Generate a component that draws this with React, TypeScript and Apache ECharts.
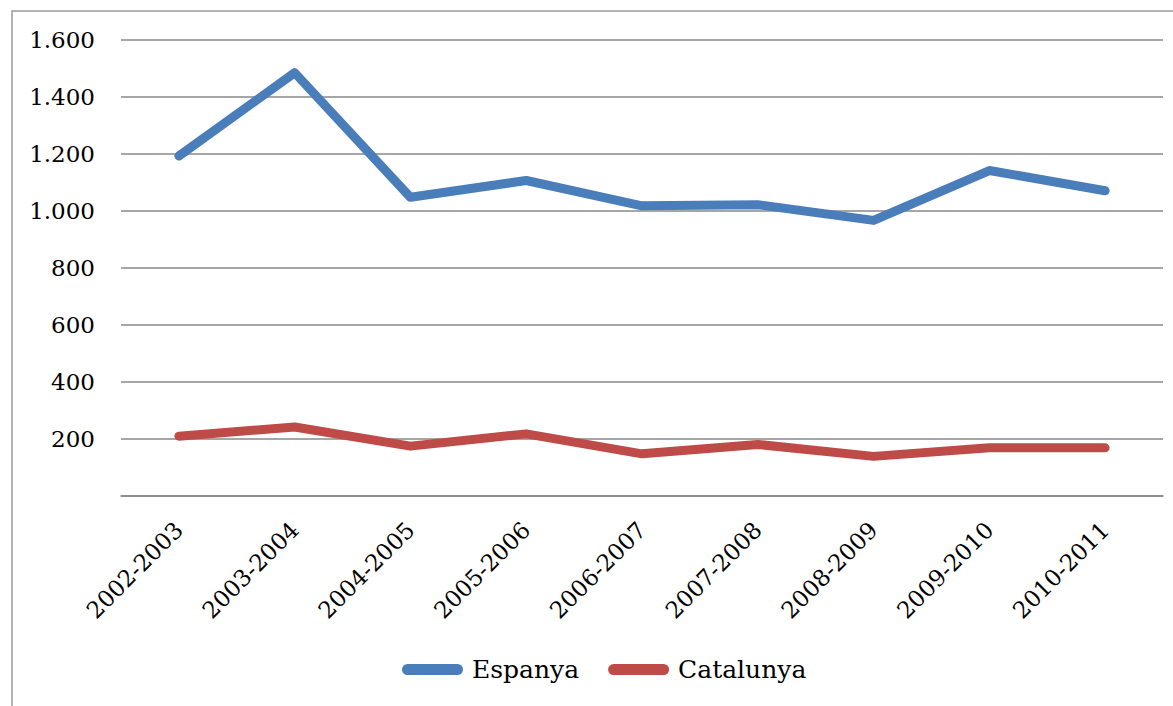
import React, { useEffect, useRef } from "react";
import * as echarts from "echarts";

const categories = [
  "2002-2003",
  "2003-2004",
  "2004-2005",
  "2005-2006",
  "2006-2007",
  "2007-2008",
  "2008-2009",
  "2009-2010",
  "2010-2011",
];
const espanya = [1193, 1485, 1048, 1107, 1018, 1022, 967, 1142, 1071];
const catalunya = [210, 242, 175, 218, 148, 181, 139, 169, 169];
const yTickValues = [0, 200, 400, 600, 800, 1000, 1200, 1400, 1600];
const yTickLabels = ["", "200", "400", "600", "800", "1.000", "1.200", "1.400", "1.600"];
const seriesNames = ["Espanya", "Catalunya"];

const FONT = "DejaVu Serif";

export default function App() {
  const ref = useRef<HTMLDivElement>(null);
  useEffect(() => {
    document.body.style.margin = "0";
    const chart = echarts.init(ref.current!, null, { renderer: "svg" });
    const capsule = "path://M5.5,0 H55.5 A5.5,5.5 0 0 1 55.5,11 H5.5 A5.5,5.5 0 0 1 5.5,0 Z";
    chart.setOption({
      animation: false,
      backgroundColor: "#ffffff",
      textStyle: { fontFamily: FONT },
      grid: { left: 121, right: 10, top: 40, bottom: 210, containLabel: false },
      graphic: [
        {
          type: "rect",
          shape: { x: 12, y: 11, width: 1300, height: 900 },
          style: { fill: "none", stroke: "#9a9a9a", lineWidth: 1.5 },
          silent: true,
          z: -1,
        },
      ],
      legend: {
        left: 397,
        top: 652,
        itemWidth: 61,
        itemHeight: 11,
        itemGap: 29,
        icon: capsule,
        textStyle: { fontFamily: FONT, fontSize: 25, color: "#000", padding: [0, 0, 0, 4] },
        data: seriesNames,
      },
      xAxis: {
        type: "category",
        data: categories,
        boundaryGap: true,
        axisLine: { show: true, lineStyle: { color: "#888", width: 1.5 } },
        axisTick: { show: false },
        axisLabel: {
          rotate: 45,
          interval: 0,
          margin: 30,
          fontFamily: FONT,
          fontSize: 23,
          color: "#000",
        },
      },
      yAxis: {
        type: "value",
        min: 0,
        max: 1600,
        interval: 200,
        axisLine: { show: false },
        axisTick: { show: false },
        splitLine: { lineStyle: { color: "#888", width: 1.5 } },
        axisLabel: {
          margin: 26,
          fontFamily: FONT,
          fontSize: 23,
          color: "#000",
          formatter: (v: number) => {
            const i = yTickValues.indexOf(v);
            return i >= 0 ? yTickLabels[i] : "";
          },
        },
      },
      series: [
        {
          name: seriesNames[0],
          type: "line",
          data: espanya,
          symbol: "none",
          color: "#4a7ebb",
          lineStyle: { width: 9, color: "#4a7ebb", cap: "round", join: "round" },
        },
        {
          name: seriesNames[1],
          type: "line",
          data: catalunya,
          symbol: "none",
          color: "#be4b48",
          lineStyle: { width: 9, color: "#be4b48", cap: "round", join: "round" },
        },
      ],
    });
    return () => chart.dispose();
  }, []);
  return <div ref={ref} style={{ width: 1173, height: 706 }} />;
}
